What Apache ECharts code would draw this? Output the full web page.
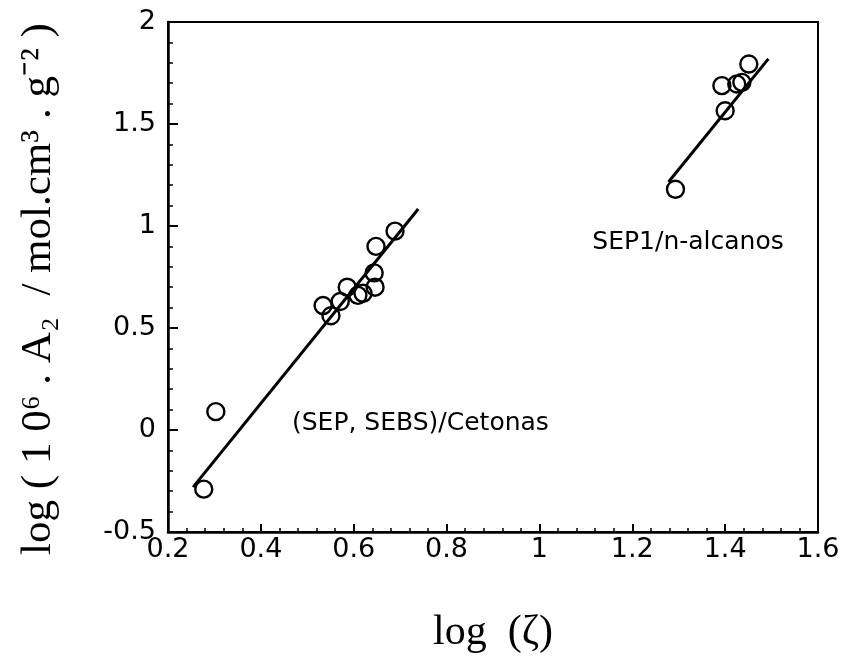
<!DOCTYPE html>
<html>
<head>
<meta charset="utf-8">
<script src="https://cdn.jsdelivr.net/npm/echarts@6/dist/echarts.min.js"></script>
<style>
  html, body { margin: 0; padding: 0; background: #fff; }
  #chart { width: 844px; height: 659px; }
</style>
</head>
<body>
<div id="chart"></div>
<script>
// (SEP, SEBS)/Cetonas points
const cetonasX = [0.277, 0.303, 0.534, 0.551, 0.571, 0.586, 0.609, 0.620, 0.646, 0.644, 0.648, 0.689];
const cetonasY = [-0.29, 0.09, 0.61, 0.56, 0.63, 0.70, 0.66, 0.67, 0.70, 0.77, 0.90, 0.975];
// SEP1/n-alcanos points
const alcanosX = [1.293, 1.400, 1.393, 1.425, 1.436, 1.451];
const alcanosY = [1.18, 1.565, 1.688, 1.696, 1.704, 1.794];
// fitted lines (end points)
const fitCetonasX = [0.254, 0.739];
const fitCetonasY = [-0.28, 1.083];
const fitAlcanosX = [1.278, 1.493];
const fitAlcanosY = [1.216, 1.819];

const pairs = (xs, ys) => xs.map((x, i) => [x, ys[i]]);

const chart = echarts.init(document.getElementById('chart'));

const tickFont = { fontFamily: 'DejaVu Sans', fontSize: 27, color: '#000' };

const option = {
  animation: false,
  backgroundColor: '#fff',
  grid: {
    left: 168, top: 22, right: 26, bottom: 126,
    show: true, borderColor: '#000', borderWidth: 2
  },
  xAxis: {
    type: 'value', min: 0.2, max: 1.6, interval: 0.2,
    axisLine: { show: true, onZero: false, lineStyle: { color: '#000', width: 2.5 } },
    axisTick: { show: true, inside: true, length: 8, lineStyle: { color: '#000', width: 2 } },
    minorTick: { show: true, splitNumber: 5, length: 4, lineStyle: { color: '#000', width: 1.5 } },
    splitLine: { show: false },
    axisLabel: Object.assign({ margin: 4, formatter: v => String(+v.toFixed(1)) }, tickFont),
    name: 'log  (ζ)', nameLocation: 'middle', nameGap: 80,
    nameTextStyle: { fontFamily: 'Liberation Serif', fontSize: 42, color: '#000' }
  },
  yAxis: {
    type: 'value', min: -0.5, max: 2, interval: 0.5,
    axisLine: { show: true, onZero: false, lineStyle: { color: '#000', width: 2.5 } },
    axisTick: { show: true, inside: true, length: 10, lineStyle: { color: '#000', width: 2 } },
    minorTick: { show: true, splitNumber: 5, length: 5, lineStyle: { color: '#000', width: 1.5 } },
    splitLine: { show: false },
    axisLabel: Object.assign({ margin: 12, formatter: v => String(+v.toFixed(1)) }, tickFont),
    name: 'log ( 1 0⁶ . A₂  / mol.cm³ . g⁻² )', nameLocation: 'middle', nameGap: 108, nameRotate: 90,
    nameTextStyle: { fontFamily: 'Liberation Serif', fontSize: 43, color: '#000', padding: [0, 24, 0, 0] }
  },
  series: [
    {
      type: 'line', data: pairs(fitCetonasX, fitCetonasY), showSymbol: false, symbol: 'none',
      lineStyle: { color: '#000', width: 3 }, z: 2
    },
    {
      type: 'line', data: pairs(fitAlcanosX, fitAlcanosY), showSymbol: false, symbol: 'none',
      lineStyle: { color: '#000', width: 3 }, z: 2
    },
    {
      type: 'scatter', data: pairs(cetonasX, cetonasY), symbol: 'circle', symbolSize: 17,
      itemStyle: { color: 'rgba(255,255,255,0)', borderColor: '#000', borderWidth: 2.4, opacity: 1 }, z: 3
    },
    {
      type: 'scatter', data: pairs(alcanosX, alcanosY), symbol: 'circle', symbolSize: 17,
      itemStyle: { color: 'rgba(255,255,255,0)', borderColor: '#000', borderWidth: 2.4, opacity: 1 }, z: 3
    },
    {
      // series labels
      type: 'scatter', symbolSize: 0, silent: true,
      itemStyle: { opacity: 1 },
      data: [
        { value: [0.467, 0.03], name: '(SEP, SEBS)/Cetonas' },
        { value: [1.114, 0.92], name: 'SEP1/n-alcanos' }
      ],
      label: {
        show: true, position: 'right', distance: 0, formatter: p => p.name,
        fontFamily: 'DejaVu Sans', fontSize: 25, color: '#000'
      }
    }
  ]
};

chart.setOption(option);
</script>
</body>
</html>
